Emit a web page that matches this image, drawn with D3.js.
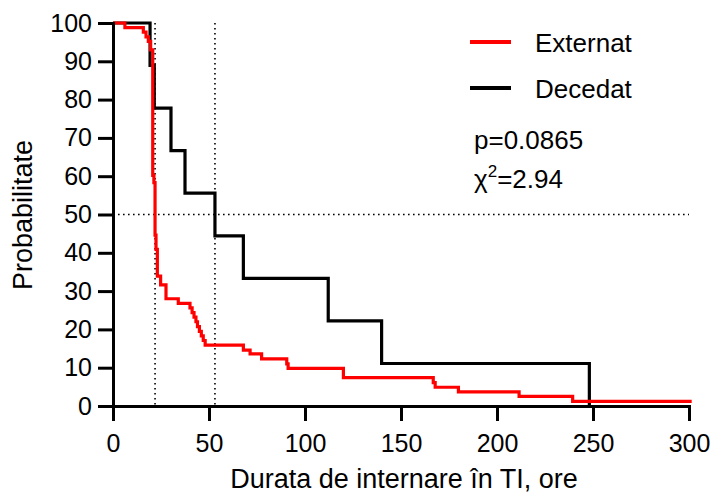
<!DOCTYPE html>
<html>
<head>
<meta charset="utf-8">
<script src="https://cdn.jsdelivr.net/npm/d3@7"></script>
<style>
  html, body { margin: 0; padding: 0; background: #fff; }
  svg { display: block; font-family: "Liberation Sans", Arial, sans-serif; }
</style>
</head>
<body>
<svg id="chart" width="714" height="495"></svg>
<script>
// Kaplan–Meier curves: time (hours) at which each step happens, and survival (%) after it
const externatTimes = [0, 6.2, 15.8, 17.2, 18.4, 19.6, 20.7, 21.3, 21.9, 22.4, 23.1, 24.8, 27.6, 34, 40.1, 41.2, 42.2, 43.2, 44, 45, 46, 47, 48, 67.9, 71.4, 77.4, 90.5, 91.2, 120, 166.8, 167.8, 179.9, 211.5, 239.4, 301.4];
const externatValues = [100, 98.8, 97.6, 96.4, 95.2, 93, 60.2, 58.3, 44.6, 40.9, 33.9, 31.6, 28.0, 26.8, 25.6, 24.4, 23.2, 22.0, 20.7, 19.5, 18.3, 17.1, 15.9, 14.6, 13.6, 12.3, 11.0, 9.8, 7.4, 6.1, 4.9, 3.7, 2.5, 1.2, 1.2];

const decedatTimes = [0, 19.3, 21.5, 30.2, 37.5, 53.1, 67.9, 112.1, 139.9, 248.1];
const decedatValues = [100, 88.9, 77.8, 66.7, 55.6, 44.4, 33.3, 22.2, 11.1, 0];

// Median survival times (dotted guides) and the 50% level
const medianTimes = [21.9, 53.1];
const medianLevel = 50;

const xTicks = [0, 50, 100, 150, 200, 250, 300];
const yTicks = [0, 10, 20, 30, 40, 50, 60, 70, 80, 90, 100];

const seriesNames = ["Externat", "Decedat"];
const seriesColors = ["#ff0000", "#000000"];

const svg = d3.select("#chart");
const x = d3.scaleLinear().domain([0, 300]).range([113, 689]);
const y = d3.scaleLinear().domain([0, 100]).range([406, 23]);

// Dotted guides
const guides = svg.append("g")
  .attr("stroke", "#000")
  .attr("stroke-width", 1.6)
  .attr("stroke-dasharray", "1.6,3.4");
guides.append("line")
  .attr("x1", x(0)).attr("x2", x(300))
  .attr("y1", y(medianLevel)).attr("y2", y(medianLevel));
guides.selectAll("line.v").data(medianTimes).join("line")
  .attr("class", "v")
  .attr("x1", d => x(d)).attr("x2", d => x(d))
  .attr("y1", y(100)).attr("y2", y(0));

// Step curves
const step = d3.line().curve(d3.curveStepAfter).x(d => x(d[0])).y(d => y(d[1]));
const series = [
  d3.zip(externatTimes, externatValues),
  d3.zip(decedatTimes, decedatValues)
];
// draw black first so the red curve sits on top
[1, 0].forEach(i => {
  svg.append("path")
    .attr("d", step(series[i]))
    .attr("fill", "none")
    .attr("stroke", seriesColors[i])
    .attr("stroke-width", 3.2)
    .attr("stroke-linejoin", "miter");
});

// Axes
const yAxis = svg.append("g")
  .attr("transform", `translate(${x(0)},0)`)
  .call(d3.axisLeft(y).tickValues(yTicks).tickSize(15).tickSizeOuter(0).tickPadding(6));
const xAxis = svg.append("g")
  .attr("transform", `translate(0,${y(0)})`)
  .call(d3.axisBottom(x).tickValues(xTicks).tickSize(15).tickSizeOuter(0).tickPadding(13));
[xAxis, yAxis].forEach(g => {
  g.selectAll("path, line").attr("stroke", "#000").attr("stroke-width", 3);
  g.select(".domain").attr("stroke-linecap", "square");
  g.selectAll("text").attr("font-size", 25).attr("fill", "#000")
    .attr("font-family", '"Liberation Sans", Arial, sans-serif');
});

// Axis titles
svg.append("text")
  .attr("x", 404).attr("y", 488)
  .attr("text-anchor", "middle")
  .attr("font-size", 27)
  .text("Durata de internare în TI, ore");
svg.append("text")
  .attr("transform", "translate(32,215) rotate(-90)")
  .attr("text-anchor", "middle")
  .attr("font-size", 27)
  .text("Probabilitate");

// Legend
const legend = svg.append("g");
seriesNames.forEach((name, i) => {
  const ly = 42 + i * 46;
  legend.append("line")
    .attr("x1", 470).attr("x2", 511)
    .attr("y1", ly).attr("y2", ly)
    .attr("stroke", seriesColors[i]).attr("stroke-width", 4);
  legend.append("text")
    .attr("x", 535).attr("y", ly + 10)
    .attr("font-size", 26)
    .text(name);
});

// Log-rank test result
svg.append("text")
  .attr("x", 474).attr("y", 149)
  .attr("font-size", 26)
  .text("p=0.0865");
const chi = svg.append("text")
  .attr("x", 474).attr("y", 188)
  .attr("font-size", 26);
chi.append("tspan").text("χ");
chi.append("tspan").attr("dy", -11).attr("font-size", 17).text("2");
chi.append("tspan").attr("dy", 11).text("=2.94");
</script>
</body>
</html>
